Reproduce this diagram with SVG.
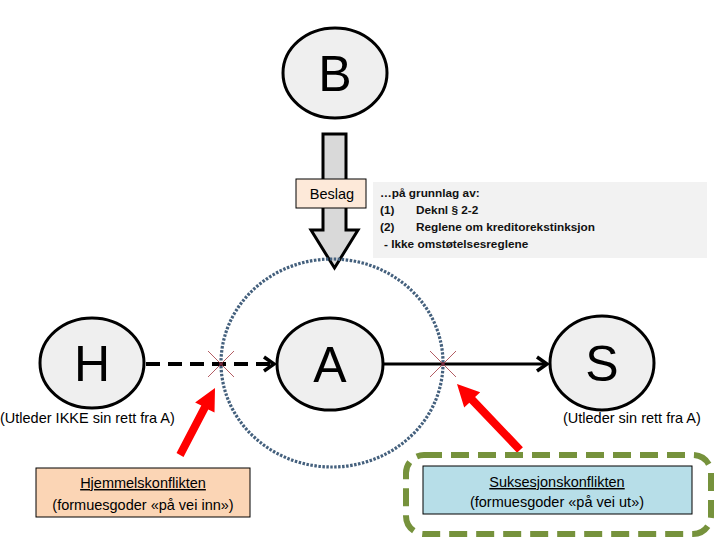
<svg xmlns="http://www.w3.org/2000/svg" width="720" height="540" viewBox="0 0 720 540">
<style>
.node{fill:#efefef;stroke:#000;stroke-width:3}
.big{font-family:"Liberation Sans",Arial,sans-serif;font-size:50px;fill:#000;text-anchor:middle}
.lbl{font-family:"Liberation Sans",Arial,sans-serif;font-size:14.5px;fill:#000}
.gt{font-family:"Liberation Sans",Arial,sans-serif;font-size:11.8px;font-weight:bold;fill:#111}
.cross{stroke:#a0343c;stroke-width:0.8}
.red{fill:#ff0000}
</style>
<defs>
<marker id="chev" markerUnits="userSpaceOnUse" markerWidth="20" markerHeight="20" viewBox="-12 -10 14 20" refX="0" refY="0" orient="auto">
<path d="M-10,-7 L0,0 L-10,7" fill="none" stroke="#000" stroke-width="3.5"/>
</marker>
</defs>
<rect x="373" y="182" width="334" height="76" fill="#f2f2f2"/>
<text class="gt" x="380" y="197">…på grunnlag av:</text>
<text class="gt" x="380" y="214">(1)</text><text class="gt" x="416" y="214">Deknl § 2-2</text>
<text class="gt" x="380" y="231">(2)</text><text class="gt" x="416" y="231">Reglene om kreditorekstinksjon</text>
<text class="gt" x="384" y="248">- Ikke omstøtelsesreglene</text>
<g id="B">
<ellipse class="node" cx="335" cy="73" rx="52" ry="45"/>
<text class="big" x="335" y="91">B</text>
</g>
<g id="beslag-arrow">
<polygon points="323,134 346,134 346,230 358,230 334.5,268 311,230 323,230" fill="#d9d9d9" stroke="#000" stroke-width="3" stroke-linejoin="miter"/>
</g>
<g id="beslag">
<rect x="296" y="179" width="70" height="29" fill="#fde9d9" stroke="#000" stroke-width="1"/>
<text class="lbl" x="332" y="199" text-anchor="middle" font-size="16">Beslag</text>
</g>
<ellipse cx="332" cy="363" rx="111" ry="104" fill="none" stroke="#44607d" stroke-width="3.2" stroke-dasharray="2.5,1.5"/>
<g id="H">
<ellipse class="node" cx="92" cy="363" rx="52" ry="45"/>
<text class="big" x="92" y="381">H</text>
</g>
<g id="A">
<ellipse class="node" cx="330" cy="364" rx="53" ry="46"/>
<text class="big" x="330" y="382">A</text>
</g>
<g id="S">
<ellipse class="node" cx="602" cy="363" rx="52" ry="47"/>
<text class="big" x="602" y="381">S</text>
</g>
<g id="connectors">
<line x1="146" y1="364" x2="274" y2="364" stroke="#000" stroke-width="4" stroke-dasharray="14,8" marker-end="url(#chev)"/>
<line x1="384" y1="364" x2="547" y2="364" stroke="#000" stroke-width="3" marker-end="url(#chev)"/>
</g>
<g id="crosses">
<line class="cross" x1="208" y1="351" x2="234" y2="377"/><line class="cross" x1="234" y1="351" x2="208" y2="377"/>
<circle cx="221" cy="364" r="1.8" fill="#7a2a40"/>
<line class="cross" x1="430" y1="351" x2="456" y2="377"/><line class="cross" x1="456" y1="351" x2="430" y2="377"/>
<circle cx="443" cy="364" r="1.8" fill="#7a2a40"/>
</g>
<text class="lbl" x="0" y="423">(Utleder IKKE sin rett fra A)</text>
<text class="lbl" x="563" y="423">(Utleder sin rett fra A)</text>
<g id="red-arrows">
<polygon class="red" points="176.5,453.1 201.3,405.6 195.1,402.4 215,388 214.5,412.6 208.3,409.4 183.5,456.9"/>
<polygon class="red" points="517.1,452.8 469.3,402.7 464.2,407.5 457,384 480.2,392.3 475.1,397.1 522.9,447.2"/>
</g>
<g id="hjemmel">
<rect x="36" y="468" width="214" height="49" fill="#fbd5b5" stroke="#000" stroke-width="1"/>
<text class="lbl" x="143" y="488" text-anchor="middle" font-size="16" text-decoration="underline">Hjemmelskonflikten</text>
<text class="lbl" x="143" y="510" text-anchor="middle" font-size="13.5">(formuesgoder «på vei inn»)</text>
</g>
<g id="suksesjon">
<rect x="406" y="455" width="305" height="79" rx="18" fill="none" stroke="#76923c" stroke-width="6" stroke-dasharray="18,9"/>
<rect x="423" y="466" width="269" height="48" fill="#b7dee8" stroke="#000" stroke-width="1"/>
<text class="lbl" x="557" y="487" text-anchor="middle" font-size="16" text-decoration="underline">Suksesjonskonflikten</text>
<text class="lbl" x="557" y="507" text-anchor="middle" font-size="13.5">(formuesgoder «på vei ut»)</text>
</g>
</svg>
